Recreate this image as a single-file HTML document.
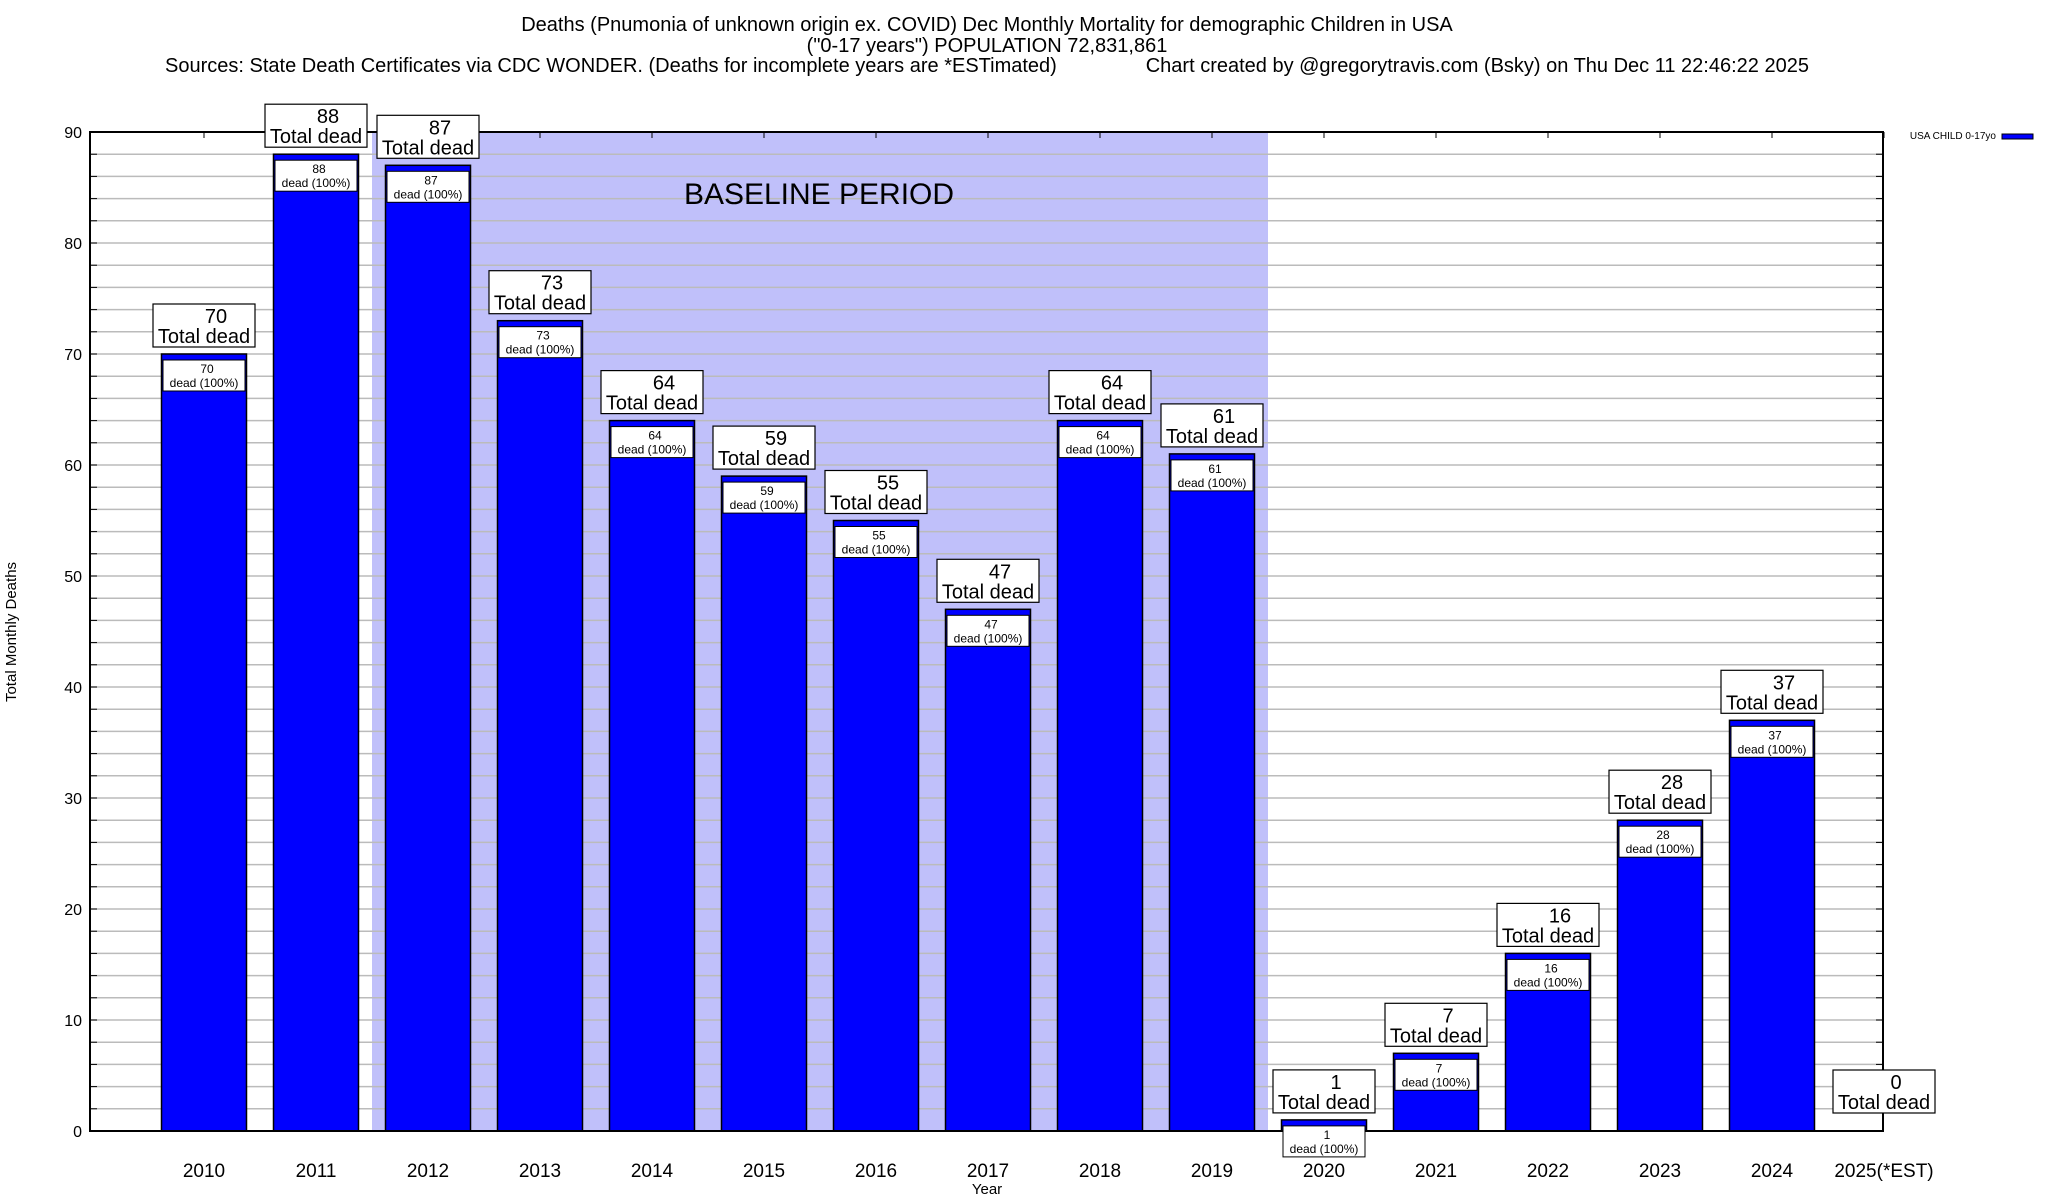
<!DOCTYPE html>
<html><head><meta charset="utf-8">
<style>
html,body{margin:0;padding:0;background:#fff;}
svg{display:block;font-family:"Liberation Sans",Arial,sans-serif;}
</style></head>
<body>
<svg id="chart" width="2048" height="1200" viewBox="0 0 2048 1200" xmlns="http://www.w3.org/2000/svg">
  <g font-size="20" text-anchor="middle" fill="#000">
    <text x="987" y="31">Deaths (Pnumonia of unknown origin ex. COVID) Dec Monthly Mortality for demographic Children in USA</text>
    <text x="987" y="52">("0-17 years") POPULATION 72,831,861</text>
    <text x="987" y="72" xml:space="preserve">Sources: State Death Certificates via CDC WONDER. (Deaths for incomplete years are *ESTimated)                Chart created by @gregorytravis.com (Bsky) on Thu Dec 11 22:46:22 2025</text>
  </g>
  <g id="shade"></g>
  <g id="grid"></g>
  <g id="bars"></g>
  <g id="axes"></g>
  <g id="labels"></g>
  <text x="819" y="204" font-size="30" text-anchor="middle">BASELINE PERIOD</text>
  <text x="16" y="632" font-size="15" text-anchor="middle" transform="rotate(-90 16 632)">Total Monthly Deaths</text>
  <text x="987" y="1194" font-size="15" text-anchor="middle">Year</text>
  <g>
    <text x="1996" y="139" font-size="10" text-anchor="end">USA CHILD 0-17yo</text>
    <rect x="2002" y="134" width="31" height="5" fill="#0000ff" stroke="#000" stroke-width="1"/>
  </g>
</svg>
<script>
const categories = ["2010","2011","2012","2013","2014","2015","2016","2017","2018","2019","2020","2021","2022","2023","2024","2025(*EST)"];
const values = [70,88,87,73,64,59,55,47,64,61,1,7,16,28,37,0];
const yTicks = [0,10,20,30,40,50,60,70,80,90];
const baselineStart = 1.5, baselineEnd = 9.5;

const NS = "http://www.w3.org/2000/svg";
const L = 90, R = 1883, T = 132, B = 1131;
const yMax = 90;
const xs = i => 204 + i * 112;
const ys = v => B - (v / yMax) * (B - T);
function mk(tag, attrs, parent, txt) {
  const e = document.createElementNS(NS, tag);
  for (const k in attrs) e.setAttribute(k, attrs[k]);
  if (txt !== undefined) e.textContent = txt;
  parent.appendChild(e);
  return e;
}
const gShade = document.getElementById('shade');
const gGrid = document.getElementById('grid');
const gBars = document.getElementById('bars');
const gAxes = document.getElementById('axes');
const gLab = document.getElementById('labels');

let sh = mk('rect', {x: xs(baselineStart), y: T, width: xs(baselineEnd) - xs(baselineStart), height: B - T, fill: '#c0c0fa'}, gShade);



for (let v = 2; v < yMax; v += 2) {
  const y = ys(v);
  const g = mk('line', {x1: L, x2: R, y1: y, y2: y, stroke: '#bbbbbb', 'stroke-width': 1.5}, gGrid);
  
  
  mk('line', {x1: L, x2: L + 7, y1: y, y2: y, stroke: '#000', 'stroke-width': 1}, gAxes);
  mk('line', {x1: R - 7, x2: R, y1: y, y2: y, stroke: '#000', 'stroke-width': 1}, gAxes);
}
yTicks.forEach(v => {
  const t = mk('text', {x: 82, y: ys(v) + 6, 'font-size': 16, 'text-anchor': 'end'}, gAxes, String(v));
  
  
});
categories.forEach((c, i) => {
  mk('line', {x1: xs(i), x2: xs(i), y1: T, y2: T + 6, stroke: '#000', 'stroke-width': 1}, gAxes);
  const t = mk('text', {x: xs(i), y: 1177, 'font-size': 19, 'text-anchor': 'middle'}, gAxes, c);
  
  
});
const frame = mk('rect', {x: L, y: T, width: R - L, height: B - T, fill: 'none', stroke: '#000', 'stroke-width': 2}, gAxes);



values.forEach((v, i) => {
  const cx = xs(i), top = ys(v);
  if (v > 0) {
    const b = mk('rect', {x: cx - 42.5, y: top, width: 85, height: B - top, fill: '#0000ff', stroke: '#000', 'stroke-width': 1.5}, gBars);
    
    
    const iy = top + 6;
    const ib = mk('rect', {x: cx - 41, y: iy, width: 82, height: 31, fill: '#fff', stroke: '#000', 'stroke-width': 1}, gLab);
    
    
    mk('text', {x: cx + 3, y: iy + 13, 'font-size': 12, 'text-anchor': 'middle'}, gLab, String(v));
    mk('text', {x: cx, y: iy + 27, 'font-size': 12, 'text-anchor': 'middle'}, gLab, 'dead (100%)');
  }
  const bb = Math.min(top - 7, 1113);
  const by = bb - 43;
  const ob = mk('rect', {x: cx - 51, y: by, width: 102, height: 43, fill: '#fff', stroke: '#000', 'stroke-width': 1.2}, gLab);
  
  
  const n = mk('text', {x: cx + 12, y: by + 19, 'font-size': 20, 'text-anchor': 'middle'}, gLab, String(v));
  
  
  mk('text', {x: cx, y: by + 39, 'font-size': 20, 'text-anchor': 'middle'}, gLab, 'Total dead');
});
</script>
</body></html>
